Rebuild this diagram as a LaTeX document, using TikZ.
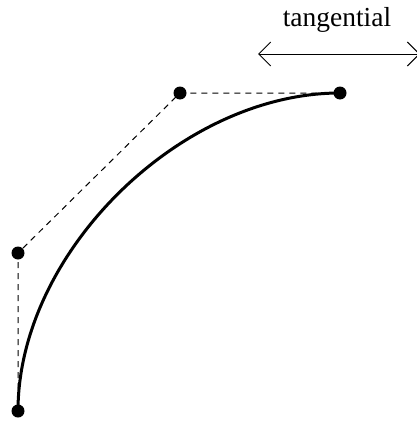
\documentclass[tikz,border=0pt]{standalone}
\usepackage{fontspec}
\setmainfont{Liberation Serif}
\usetikzlibrary{arrows.meta}
\tikzset{
  dot/.style={circle,fill=black,inner sep=0pt,minimum size=13pt},
  ctrl/.style={dashed,line width=1pt,dash pattern=on 6pt off 5pt},
  curveline/.style={line width=3pt},
  tang/.style={line width=1pt,{Straight Barb[length=12pt,width=24pt]}-{Straight Barb[length=12pt,width=24pt]}},
  lbl/.style={font=\fontsize{27.5}{32}\selectfont,inner sep=0pt}
}
\begin{document}
\begin{tikzpicture}[x=1pt,y=-1pt]
\useasboundingbox (0,0) rectangle (416,423);
\node[dot] (p0) at (18,411) {};
\node[dot] (p1) at (18,253) {};
\node[dot] (p2) at (180,93) {};
\node[dot] (p3) at (340,93) {};
\draw[ctrl] (p0.center) -- (p1.center) -- (p2.center) -- (p3.center);
\draw[curveline] (p0.center) .. controls (p1.center) and (p2.center) .. (p3.center);
\coordinate (aL) at (258,54);
\coordinate (aR) at (420,54);
\draw[tang] (aL) -- (aR);
\node[lbl,anchor=base] (t) at (337,27) {tangential};
\end{tikzpicture}
\end{document}
